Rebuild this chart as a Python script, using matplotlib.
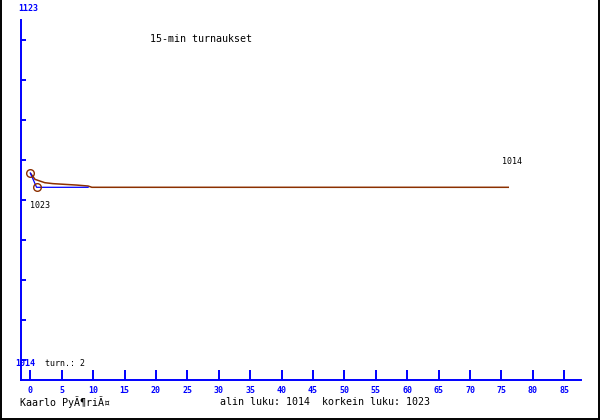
import numpy as np
import matplotlib.pyplot as plt
from matplotlib.lines import Line2D

# --- data ---
games_x = [0, 1, 9.2]                 # blue line: per-game rating
games_y = [1023, 1014, 1014]
avg_x = [0, 0.75, 2.3, 3.6, 7.4, 9.2, 9.8, 76.2]   # brown line: smoothed rating
avg_y = [1023, 1019.0, 1016.9, 1016.3, 1015.4, 1014.8, 1014, 1014]
circle_x = [0, 1]
circle_y = [1023, 1014]
x_ticks = list(range(0, 90, 5))
y_top_label, y_bottom_label = "1123", "1014"
title = "15-min turnaukset"
player = "Kaarlo PyÃ¶riÃ¤"
summary = "alin luku: 1014  korkein luku: 1023"
games_note = "turn.: 2"
first_label, last_label = "1023", "1014"

BLUE = '#0000ff'
BROWN = '#8c3000'
MONO = 'DejaVu Sans Mono'

W, H = 600, 420
fig = plt.figure(figsize=(6, 4.2), dpi=100)
fig.set_facecolor('white')

# plot area in pixels: x 21..581, y 20..380
ax = fig.add_axes([21 / W, (H - 380) / H, 560 / W, 360 / H])
px_per_x = (564.3 - 30.3) / 85
ax.set_xlim((21 - 30.3) / px_per_x, (581 - 30.3) / px_per_x)
px_per_y = 1.59
ylo = 1014 - (380 - 187.3) / px_per_y
yhi = 1014 + (187.3 - 20) / px_per_y
ax.set_ylim(ylo, yhi)

ax.plot(avg_x, avg_y, color=BROWN, lw=1.1, solid_capstyle='butt')
ax.plot(games_x, games_y, color=BLUE, lw=0.9)
ax.plot(circle_x, circle_y, 'o', ls='none', ms=5.5, mfc='none', mec=BROWN, mew=1.0)

ax.annotate(first_label, (avg_x[0], avg_y[0]), xytext=(0, -33), textcoords='offset pixels',
            ha='left', va='center', fontsize=6, family=MONO, color='black')
ax.annotate(last_label, (avg_x[-1], avg_y[-1]), xytext=(-7, 26), textcoords='offset pixels',
            ha='left', va='center', fontsize=6, family=MONO, color='black')

# axes styling
for s in ['top', 'right']:
    ax.spines[s].set_visible(False)
for s in ['left', 'bottom']:
    ax.spines[s].set_color(BLUE)
    ax.spines[s].set_linewidth(1.4)

ax.set_xticks(x_ticks)
ax.set_xticklabels([str(t) for t in x_ticks], fontsize=6, family=MONO,
                   fontweight='bold', color=BLUE)
ax.tick_params(axis='x', direction='in', length=7.2, width=1.4, color=BLUE, pad=4)

ytick_px = np.arange(360, 0, -40)
ax.set_yticks(ylo + (380 - ytick_px) / 360 * (yhi - ylo))
ax.set_yticklabels([])
ax.tick_params(axis='y', direction='in', length=3.6, width=1.4, color=BLUE)

# texts in figure pixel positions
def ftext(x, y, s, size, **kw):
    fig.text(x / W, 1 - y / H, s, fontsize=size, family=MONO, va='center', ha='left', **kw)

ftext(18, 8.5, y_top_label, 6, color=BLUE, fontweight='bold')
ftext(15, 363, y_bottom_label, 6, color=BLUE, fontweight='bold')
ftext(45, 364, games_note, 6, color='black')
ftext(150, 38.5, title, 7.2, color='black')
ftext(20, 402, player, 7.2, color='black')
ftext(220, 402, summary, 7.2, color='black')

# frame: left, right, bottom
for xs, ys in [([1, 1], [0, H]), ([599, 599], [0, H]), ([0, W], [419, 419])]:
    fig.add_artist(Line2D([x / W for x in xs], [1 - y / H for y in ys],
                          color='black', lw=1.4))

fig.savefig('out.png', dpi=100, facecolor='white')
